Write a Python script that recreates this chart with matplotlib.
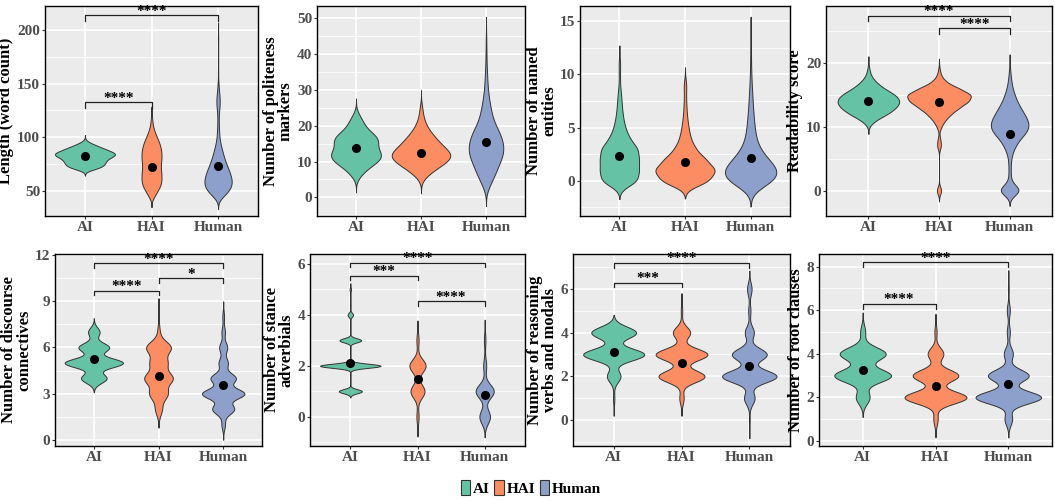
import numpy as np
import matplotlib
matplotlib.use('Agg')
import matplotlib.pyplot as plt
from matplotlib.patches import Patch

GROUPS = ['AI', 'HAI', 'Human']
COLORS = ['#66C2A5', '#FC8D62', '#8DA0CB']

# ---------------- data (value -> relative frequency), KDE bandwidths, means, significance
# Length (word count)
LEN_AI = {70: 15, 72: 24, 74: 28, 76: 29, 78: 30, 80: 33, 82: 40, 84: 48, 86: 40, 88: 32, 90: 25, 92: 17, 94: 10, 96: 3}
LEN_HAI = {45: 4, 50: 8, 55: 12, 60: 13, 65: 13, 70: 12, 75: 12, 80: 13, 85: 13, 90: 12, 95: 10, 100: 7, 105: 4, 110: 2, 115: 1, 118: 0.5}
LEN_HUMAN = {45: 8, 50: 16, 55: 20, 60: 20, 65: 18, 70: 15, 75: 12, 80: 9, 85: 7, 90: 5, 95: 3, 100: 2, 105: 1.5, 110: 1.2,
             115: 1, 120: 1, 125: 1.5, 130: 2.5, 135: 2.5, 140: 2, 145: 1, 150: 0.8, 160: 0.4, 170: 0.3, 180: 0.3, 190: 0.3, 195: 0.2}
LEN_BW = [2.0, 3.5, 4.0]
LEN_MEANS = [82.7, 72.4, 73.0]
LEN_SIG = [(1, 3, 213.7, '****'), (1, 2, 132.5, '****')]

# Politeness markers
POL_AI = {5: 3, 6: 7, 7: 12, 8: 18, 9: 26, 10: 35, 11: 40, 12: 41, 13: 36, 14: 32, 15: 34, 16: 36, 17: 33, 18: 25, 19: 18,
          20: 14, 21: 11, 22: 9, 23: 5, 24: 2}
POL_HAI = {5: 4, 6: 8, 7: 15, 8: 22, 9: 30, 10: 38, 11: 44, 12: 45, 13: 40, 14: 33, 15: 28, 16: 24, 17: 19, 18: 15, 19: 11,
           20: 8, 21: 6, 22: 4, 23: 3, 24: 2.5, 25: 2, 26: 1}
POL_HUMAN = {3: 5, 5: 10, 7: 15, 9: 19, 11: 24, 13: 27, 15: 26, 17: 23, 19: 18, 21: 12, 23: 9, 25: 7, 27: 5, 29: 3.5, 31: 2.5,
             33: 2, 35: 1.5, 37: 1, 39: 0.8, 41: 0.6, 43: 0.5, 45: 0.4}
POL_BW = [1.2, 1.3, 1.8]
POL_MEANS = [13.9, 12.5, 15.5]
POL_SIG = []

# Named entities
ENT_AI = {0: 26, 1: 27, 2: 27, 3: 26, 4: 14, 5: 8, 6: 5, 7: 3.5, 8: 2.5, 9: 1, 10: 0.8, 11: 1.2}
ENT_HAI = {0: 35, 1: 45, 2: 30, 3: 15, 4: 8, 5: 5, 6: 3, 7: 2, 8: 1.5, 9: 2}
ENT_HUMAN = {0: 30, 1: 33, 2: 20, 3: 10, 4: 6, 5: 4.5, 6: 3.5, 7: 2.5, 8: 2, 9: 1.2, 10: 0.8, 11: 0.5, 12: 0.4, 13: 0.3}
ENT_BW = [0.57, 0.55, 0.8]
ENT_MEANS = [2.34, 1.72, 2.18]
ENT_SIG = []

# Readability score
READ_AI = {11: 8, 12: 25, 13: 36, 14: 42, 15: 36, 16: 20, 17: 10, 18: 3, 19: 1.5}
READ_HAI = {0: 4, 7: 3, 8: 2, 10: 3, 11: 8, 12: 16, 13: 27, 14: 40, 15: 45, 16: 28, 17: 10, 18: 3, 19: 1}
READ_HUMAN = {0: 22, 1: 3, 2: 1.5, 3: 1.5, 4: 1.5, 5: 2, 6: 4, 7: 8, 8: 13, 9: 22, 10: 27, 11: 25, 12: 20, 13: 15, 14: 10,
              15: 7, 16: 4, 17: 2.5, 18: 1.5, 19: 0.8}
READ_BW = [0.7, 0.57, 0.8]
READ_MEANS = [14.0, 13.9, 8.9]
READ_SIG = [(1, 3, 27.5, '****'), (2, 3, 25.5, '****')]

# Discourse connectives
DIS_AI = {4: 20, 5: 45.6, 6: 24, 7: 9}
DIS_HAI = {2: 6, 3: 16, 4: 25, 5: 15, 6: 22, 7: 2, 8: 0.5}
DIS_HUMAN = {1: 3, 2: 19, 3: 37, 4: 22, 5: 8, 6: 7, 7: 3, 8: 1.5}
DIS_BW = [0.3, 0.4, 0.33]
DIS_MEANS = [5.25, 4.13, 3.57]
DIS_SIG = [(1, 3, 11.46, '****'), (2, 3, 10.49, '*'), (1, 2, 9.69, '****')]

# Stance adverbials
STA_AI = {1: 17, 2: 44.6, 3: 16, 4: 4, 5: 1}
STA_HAI = {0: 2, 1: 13, 2: 15, 3: 2}
STA_HUMAN = {0: 7, 1: 12, 2: 2, 3: 1}
STA_BW = [0.08, 0.26, 0.27]
STA_MEANS = [2.12, 1.49, 0.86]
STA_SIG = [(1, 3, 6.05, '****'), (1, 2, 5.54, '***'), (2, 3, 4.53, '****')]

# Reasoning verbs and modals
REA_AI = {1: 1, 2: 10, 3: 45, 4: 33}
REA_HAI = {1: 3, 2: 32, 3: 36, 4: 12, 5: 1}
REA_HUMAN = {0: 0.5, 1: 7, 2: 36, 3: 23, 4: 6, 5: 1.5, 6: 3}
REA_BW = [0.27, 0.27, 0.28]
REA_MEANS = [3.1, 2.63, 2.49]
REA_SIG = [(1, 3, 7.2, '****'), (1, 2, 6.29, '***')]

# Root clauses
ROOT_AI = {2: 11, 3: 45.7, 4: 37, 5: 4}
ROOT_HAI = {1: 3, 2: 43.5, 3: 32, 4: 11, 5: 1.5}
ROOT_HUMAN = {1: 5, 2: 43.5, 3: 27, 4: 6, 5: 2, 6: 2, 7: 0.5}
ROOT_BW = [0.3, 0.28, 0.28]
ROOT_MEANS = [3.27, 2.54, 2.6]
ROOT_SIG = [(1, 3, 8.19, '****'), (1, 2, 6.29, '****')]

YLABELS = ['Length (word count)', 'Number of politeness\nmarkers', 'Number of named\nentities', 'Readability score',
           'Number of discourse\nconnectives', 'Number of stance\nadverbials', 'Number of reasoning\nverbs and modals',
           'Number of root clauses']

plt.rcParams['font.family'] = ['Liberation Serif', 'DejaVu Serif']
plt.rcParams['font.weight'] = 'bold'

W, H = 1055, 500
fig = plt.figure(figsize=(W / 100, H / 100), dpi=100)

# panel boxes in pixels: left, right, top, bottom
BOXES = [(45, 258, 6, 216), (317, 525, 6, 216), (580, 790, 6, 216), (826, 1052, 6, 216),
         (55, 262, 254, 446), (310, 525, 254, 446), (573, 790, 254, 446), (819, 1052, 254, 446)]

PANELS = [
    ([LEN_AI, LEN_HAI, LEN_HUMAN], LEN_BW, LEN_MEANS, LEN_SIG, [50, 100, 150, 200], (26.4, 222.4), 25),
    ([POL_AI, POL_HAI, POL_HUMAN], POL_BW, POL_MEANS, POL_SIG, [0, 10, 20, 30, 40, 50], (-5.2, 53.4), 5),
    ([ENT_AI, ENT_HAI, ENT_HUMAN], ENT_BW, ENT_MEANS, ENT_SIG, [0, 5, 10, 15], (-3.3, 16.4), 2.5),
    ([READ_AI, READ_HAI, READ_HUMAN], READ_BW, READ_MEANS, READ_SIG, [0, 10, 20], (-4.0, 29.0), 5),
    ([DIS_AI, DIS_HAI, DIS_HUMAN], DIS_BW, DIS_MEANS, DIS_SIG, [0, 3, 6, 9, 12], (-0.39, 12.06), 1.5),
    ([STA_AI, STA_HAI, STA_HUMAN], STA_BW, STA_MEANS, STA_SIG, [0, 2, 4, 6], (-1.15, 6.39), 1),
    ([REA_AI, REA_HAI, REA_HUMAN], REA_BW, REA_MEANS, REA_SIG, [0, 2, 4, 6], (-1.19, 7.6), 1),
    ([ROOT_AI, ROOT_HAI, ROOT_HUMAN], ROOT_BW, ROOT_MEANS, ROOT_SIG, [0, 2, 4, 6, 8], (-0.23, 8.58), 1),
]


def kde(freq, bw):
    xs = np.array(list(freq.keys()), float)
    ws = np.array(list(freq.values()), float)
    ws = ws / ws.sum()
    grid = np.linspace(xs.min() - 3 * bw, xs.max() + 3 * bw, 800)
    d = (ws[None, :] * np.exp(-0.5 * ((grid[:, None] - xs[None, :]) / bw) ** 2)).sum(1) / (bw * np.sqrt(2 * np.pi))
    return grid, d


for (freqs, bws, means, sig, yticks, ylim, minor_step), box, ylabel in zip(PANELS, BOXES, YLABELS):
    l, r, t, b = box
    ax = fig.add_axes([l / W, 1 - b / H, (r - l) / W, (b - t) / H])
    ax.set_facecolor('#EBEBEB')
    ax.set_xlim(0.4, 3.6)
    ax.set_ylim(*ylim)
    # grid
    minors = np.arange(yticks[0] - minor_step, yticks[-1] + 2 * minor_step, 2 * minor_step)
    for m in minors:
        if ylim[0] < m < ylim[1]:
            ax.axhline(m, color='white', lw=0.6, zorder=0)
    for mj in yticks:
        ax.axhline(mj, color='white', lw=1.2, zorder=0)
    for xv in (1, 2, 3):
        ax.axvline(xv, color='white', lw=1.2, zorder=0)
    curves = [kde(f, bw) for f, bw in zip(freqs, bws)]
    dmax = max(d.max() for _, d in curves)
    for i, ((g, d), col) in enumerate(zip(curves, COLORS)):
        hw = 0.45 * d / dmax
        ax.fill_betweenx(g, i + 1 - hw, i + 1 + hw, facecolor=col, edgecolor='#333333', lw=0.7, zorder=3)
    ax.plot([1, 2, 3], means, 'o', color='black', ms=5.5, zorder=4)
    tip = 0.025 * (ylim[1] - ylim[0])
    for x1, x2, yb, lab in sig:
        ax.plot([x1, x1, x2, x2], [yb - tip, yb, yb, yb - tip], color='#222222', lw=0.9, zorder=5, clip_on=False)
        ax.annotate(lab, xy=((x1 + x2) / 2, yb), xytext=(0, 0.3), textcoords='offset points', ha='center',
                    va='baseline', fontsize=11, color='black', zorder=6, annotation_clip=False)
    ax.set_xticks([1, 2, 3])
    ax.set_xticklabels(GROUPS)
    ax.set_yticks(yticks)
    ax.tick_params(axis='both', length=2, width=0.8, color='#333333', labelcolor='#4D4D4D', labelsize=11, pad=1.5)
    for lb in ax.get_xticklabels() + ax.get_yticklabels():
        lb.set_fontweight('bold')
    ax.set_ylabel(ylabel, fontsize=12, fontweight='bold', color='black', linespacing=0.9, labelpad=2)
    for s in ax.spines.values():
        s.set_color('black')
        s.set_linewidth(1.0)

handles = [Patch(facecolor=c, edgecolor='#333333', label=g, lw=0.8) for g, c in zip(GROUPS, COLORS)]
fig.legend(handles=handles, loc='center', bbox_to_anchor=(531 / W, 1 - 488 / H), ncol=3, frameon=False,
           handlelength=0.6, handleheight=1.1, handletextpad=0.2, columnspacing=0.3,
           prop={'family': 'Liberation Serif', 'weight': 'bold', 'size': 11})

fig.savefig('out.png', dpi=100)
